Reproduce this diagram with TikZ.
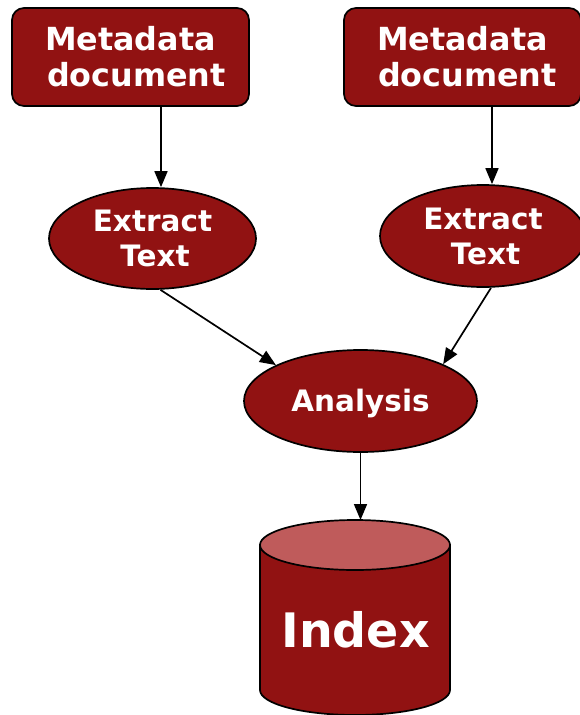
\documentclass[tikz,border=0pt]{standalone}
\usepackage{fontspec}
\setmainfont{DejaVu Sans}
\usetikzlibrary{shapes.geometric,arrows.meta}
\definecolor{boxred}{HTML}{911212}
\definecolor{toplight}{HTML}{BF5B5B}
\tikzset{
  shapeline/.style={draw=black, line width=1.7pt, fill=boxred, text=white, font=\bfseries},
  mdbox/.style={shapeline, rectangle, rounded corners=12pt, minimum width=237pt,
    minimum height=98pt, inner sep=0pt, align=center,
    font=\bfseries\fontsize{31.8}{36}\selectfont},
  stepell/.style={shapeline, ellipse, minimum width=207pt, minimum height=101pt,
    inner sep=0pt, align=center, font=\bfseries\fontsize{29.5}{35}\selectfont},
  arr/.style={draw=black, line width=1.7pt, -{Triangle[length=16pt,width=13pt]}},
}
\begin{document}
\begin{tikzpicture}[x=1pt,y=-1pt]
\useasboundingbox (0,0) rectangle (579,715);

% source documents
\node[mdbox] (m1) at (130.5,57) {Metadata\\\hspace*{12pt}document};
\node[mdbox] (m2) at (462.5,57) {Metadata\\\hspace*{10pt}document};

% text extraction
\node[stepell] (e1) at (152.5,238.5) {Extract\\\hspace*{5pt}Text};
\node[stepell, minimum width=206pt, minimum height=102pt] (e2) at (483,236) {Extract\\\hspace*{5pt}Text};

% analysis step
\node[stepell, minimum width=233pt, minimum height=102pt] (an) at (360.5,401) {};
\node[text=white, font=\bfseries\fontsize{29.5}{35}\selectfont] (antext) at (360.5,403) {Analysis};

% index store (cylinder)
\draw[line width=1.7pt, fill=boxred] (260,545) -- (260,690)
  arc[start angle=180, end angle=360, x radius=95pt, y radius=25pt]
  -- (450,545) -- cycle;
\draw[line width=1.7pt, fill=toplight] (355,545) ellipse[x radius=95pt, y radius=25pt];
\coordinate (cyltop) at (360.5,520);
\node[text=white, font=\bfseries\fontsize{47.5}{52}\selectfont] (idx) at (355.5,630) {Index};

% connectors
\draw[arr] ([xshift=30.5pt]m1.south) -- ([xshift=8.5pt]e1.north);
\draw[arr] ([xshift=29.5pt]m2.south) -- ([xshift=9pt]e2.north);
\draw[arr] ([xshift=8pt]e1.south) -- (an.157);
\draw[arr] ([xshift=8pt]e2.south) -- (an.24);
\draw[arr] (an.south) -- (cyltop);
\end{tikzpicture}
\end{document}
